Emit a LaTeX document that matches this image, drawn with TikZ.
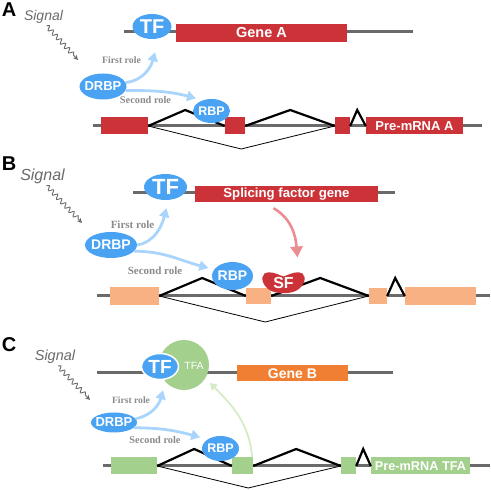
\documentclass[tikz,border=0pt]{standalone}
\usepackage{fontspec}
\setmainfont{Liberation Serif}
\setsansfont{Liberation Sans}
\usepackage{tikz}
\usetikzlibrary{arrows.meta,shapes.geometric,decorations.pathmorphing}

\definecolor{tfblue}{HTML}{4AA3F2}
\definecolor{roleblue}{HTML}{A9D4FB}
\definecolor{genered}{HTML}{CB3338}
\definecolor{linegray}{HTML}{6A6A6A}
\definecolor{rolegray}{HTML}{8A8A8A}
\definecolor{exonorange}{HTML}{F7B183}
\definecolor{exongreen}{HTML}{A3D08C}
\definecolor{arrowgreen}{HTML}{D6ECC9}
\definecolor{arrowpink}{HTML}{EA8E91}
\definecolor{genebrown}{HTML}{F07E33}
\newcommand{\fsz}[1]{\fontsize{#1}{#1}\selectfont}
\newcommand{\zw}[1]{\makebox[0pt]{#1}}

\begin{document}
\begin{tikzpicture}[x=1pt,y=1pt]
\tikzstyle{gline} = [draw=linegray, line width=3pt]
\tikzstyle{bubble} = [ellipse, fill=tfblue, inner sep=0pt, text=white]
\tikzstyle{genebox} = [rectangle, inner sep=0pt, text=white]
\tikzstyle{exon} = [rectangle, inner sep=0pt, minimum height=17]
\tikzstyle{splice} = [draw=black, line width=2.2pt]
\tikzstyle{skipline} = [draw=black, line width=0.8pt]
\tikzstyle{rolearrow} = [draw=roleblue, line width=2.8pt, -{Triangle[length=9pt,width=10pt]}]
\tikzstyle{roletext} = [text=rolegray, inner sep=0pt]
\tikzstyle{signaltext} = [text=linegray, inner sep=0pt]
\tikzstyle{signalarrow} = [draw=linegray, line width=0.9pt, decorate, decoration={snake, amplitude=2.2pt, segment length=6pt, post length=5pt}, -{Stealth[length=5pt,width=5pt]}]
\tikzstyle{panel} = [font=\sffamily\bfseries\fsz{20}, inner sep=0pt]
\useasboundingbox (0,0) rectangle (491,490);

% A
\node[panel] (labA) at (9,480) {A};
\node[signaltext, font=\sffamily\itshape\fsz{14}] (sigA) at (43.5,473) {Signal};
\coordinate (sigAe) at (78,430);
\draw[signalarrow] ([xshift=3pt,yshift=-2pt]sigA.south) -- (sigAe);
\coordinate (dnaAl) at (124,458);
\coordinate (dnaAr) at (413,458);
\draw[gline] (dnaAl) -- (dnaAr);
\node[genebox, fill=genered, minimum width=171, minimum height=18, font=\sffamily\bfseries\fsz{14.5}] (geneA) at (261.5,457) {Gene A};
\node[bubble, minimum width=39, minimum height=25, font=\sffamily\bfseries\fsz{20}] (tfA) at (152,463.5) {\zw{TF}};
\node[bubble, minimum width=47, minimum height=26, font=\sffamily\bfseries\fsz{13}] (drbpA) at (103,403.5) {\zw{DRBP}};
\node[roletext, font=\bfseries\fsz{9.8}] (firstA) at (121.5,430) {First role};
\node[roletext, font=\bfseries\fsz{10.3}] (secondA) at (145.5,390) {Second role};
\coordinate (preAl) at (93,364);
\coordinate (preAr) at (482,364);
\draw[gline] (preAl) -- (preAr);
\node[exon, fill=genered, minimum width=47] (exA1) at (124.5,364) {};
\node[exon, fill=genered, minimum width=20] (exA2) at (235,364) {};
\node[exon, fill=genered, minimum width=15] (exA3) at (342.5,364) {};
\node[genebox, fill=genered, minimum width=97, minimum height=17, font=\sffamily\bfseries\fsz{13}] (exA4) at (414.5,364) {Pre-mRNA A};
\draw[splice] (exA1.east) -- ++(37,16) -- (exA2.west);
\draw[splice] (exA2.east) -- ++(45,16) -- (exA3.west);
\draw[splice] (exA3.east) -- ++(7,16) -- (exA4.west);
\draw[skipline] (exA1.east) -- ++(93,-23) -- (exA3.west);
\node[bubble, minimum width=37, minimum height=24, font=\sffamily\bfseries\fsz{12.5}] (rbpA) at (211.5,379) {\zw{RBP}};
\draw[rolearrow] (drbpA.10) to[out=5,in=-105] ([xshift=3pt,yshift=-13pt]tfA.south);
\draw[rolearrow] (drbpA.-10) to[out=0,in=165] ([shift={(-4pt,3pt)}]rbpA.140);

% B
\node[panel] (labB) at (9,326) {B};
\node[signaltext, font=\sffamily\itshape\fsz{16}] (sigB) at (42.5,314) {Signal};
\coordinate (sigBe) at (82,267);
\draw[signalarrow] ([xshift=4pt,yshift=-2pt]sigB.south) -- (sigBe);
\coordinate (dnaBl) at (133,297);
\coordinate (dnaBr) at (395,297);
\draw[gline] (dnaBl) -- (dnaBr);
\node[genebox, fill=genered, minimum width=183, minimum height=16, font=\sffamily\bfseries\fsz{13.2}] (sfgene) at (286.5,296) {Splicing factor gene};
\node[bubble, minimum width=43, minimum height=26, font=\sffamily\bfseries\fsz{22}] (tfB) at (165.5,303) {\zw{TF}};
\node[bubble, minimum width=52, minimum height=26, font=\sffamily\bfseries\fsz{14}] (drbpB) at (111,245) {\zw{DRBP}};
\node[roletext, font=\bfseries\fsz{11}] (firstB) at (132.5,265.5) {First role};
\node[roletext, font=\bfseries\fsz{11}] (secondB) at (155,219.5) {Second role};
\coordinate (preBl) at (97,194);
\coordinate (preBr) at (490,194);
\draw[gline] (preBl) -- (preBr);
\node[exon, fill=exonorange, minimum width=49, minimum height=18] (exB1) at (134.5,194) {};
\node[exon, fill=exonorange, minimum width=25, minimum height=16] (exB2) at (258.5,194) {};
\node[exon, fill=exonorange, minimum width=18, minimum height=16] (exB3) at (378,194) {};
\node[exon, fill=exonorange, minimum width=71, minimum height=18] (exB4) at (440.5,194) {};
\draw[splice] (exB1.east) -- ++(43,18) -- (exB2.west);
\draw[splice] (exB2.east) -- ++(49,18) -- (exB3.west);
\draw[splice] (exB3.east) -- ++(8,18) -- (exB4.west);
\draw[skipline] (exB1.east) -- ++(106,-26) -- (exB3.west);
\node[bubble, minimum width=41, minimum height=28, font=\sffamily\bfseries\fsz{14}] (rbpB) at (232.5,214) {\zw{RBP}};
\coordinate (sfc) at (283.5,207.5);
\begin{scope}[shift={(sfc)}]
\fill[genered] (0,6) .. controls (-8,9) and (-14,12) .. (-19,9) .. controls (-24,5) and (-20,-5) .. (-12,-8.5) .. controls (-5,-11.5) and (5,-11.5) .. (12,-8.5) .. controls (20,-5) and (24,5) .. (19,9) .. controls (14,12) and (8,9) .. (0,6) -- cycle;
\end{scope}
\node[text=white, inner sep=0pt, minimum width=43, minimum height=21, font=\sffamily\bfseries\fsz{16}] (sf) at (sfc) {\zw{SF}};
\draw[rolearrow] (drbpB.east) to[out=10,in=-105] ([xshift=1pt,yshift=-8pt]tfB.south);
\draw[rolearrow] (drbpB.-15) to[out=0,in=165] ([xshift=-7pt]rbpB.155);
\draw[draw=arrowpink, line width=2.6pt, -{Triangle[length=11pt,width=12pt]}] ([xshift=-13pt,yshift=-6pt]sfgene.south) to[out=-30,in=95] ([xshift=14pt,yshift=25pt]sf.center);

% C
\node[panel] (labC) at (9,145) {C};
\node[signaltext, font=\sffamily\itshape\fsz{14.5}] (sigC) at (55,133) {Signal};
\coordinate (sigCe) at (90,90);
\draw[signalarrow] ([xshift=3pt,yshift=-2pt]sigC.south) -- (sigCe);
\coordinate (dnaCl) at (97,117);
\coordinate (dnaCr) at (393,117);
\draw[gline] (dnaCl) -- (dnaCr);
\node[circle, fill=exongreen, minimum size=50, inner sep=0pt] (tfaC) at (184,125) {};
\node[text=white, inner sep=0pt, font=\sffamily\fsz{10.5}] (tfaTxt) at (194,124) {TFA};
\node[bubble, draw=white, line width=1.5pt, minimum width=37, minimum height=26, font=\sffamily\bfseries\fsz{19}] (tfC) at (160,123.5) {\zw{TF}};
\node[genebox, fill=genebrown, minimum width=111, minimum height=16, font=\sffamily\bfseries\fsz{14}] (geneB) at (292.5,116.5) {Gene B};
\node[bubble, minimum width=46, minimum height=20, font=\sffamily\bfseries\fsz{13}] (drbpC) at (114,67.5) {\zw{DRBP}};
\node[roletext, font=\bfseries\fsz{9.6}] (firstC) at (131,90) {First role};
\node[roletext, font=\bfseries\fsz{10.3}] (secondC) at (155,50) {Second role};
\coordinate (preCl) at (103,24);
\coordinate (preCr) at (490,24);
\draw[gline] (preCl) -- (preCr);
\node[exon, fill=exongreen, minimum width=46] (exC1) at (134,24) {};
\node[exon, fill=exongreen, minimum width=21] (exC2) at (242.5,24) {};
\node[exon, fill=exongreen, minimum width=15] (exC3) at (348.5,24) {};
\node[genebox, fill=exongreen, minimum width=99, minimum height=17, font=\sffamily\bfseries\fsz{12.7}] (exC4) at (420.5,24) {Pre-mRNA TFA};
\draw[splice] (exC1.east) -- ++(37,17) -- (exC2.west);
\draw[splice] (exC2.east) -- ++(43,17) -- (exC3.west);
\draw[splice] (exC3.east) -- ++(7,17) -- (exC4.west);
\draw[skipline] (exC1.east) -- ++(91,-22) -- (exC3.west);
\node[bubble, minimum width=37, minimum height=25, font=\sffamily\bfseries\fsz{12.5}] (rbpC) at (220.5,41.5) {\zw{RBP}};
\draw[rolearrow] (drbpC.10) to[out=10,in=-105] ([xshift=3pt,yshift=-10pt]tfC.south);
\draw[rolearrow] (drbpC.-15) to[out=0,in=165] ([shift={(-6pt,3pt)}]rbpC.150);
\draw[draw=arrowgreen, line width=1.8pt, -{Triangle[length=7pt,width=8pt]}] ([xshift=-1pt]exC2.north east) to[out=95,in=-45] ([xshift=8pt]tfaC.-45);
\end{tikzpicture}
\end{document}
